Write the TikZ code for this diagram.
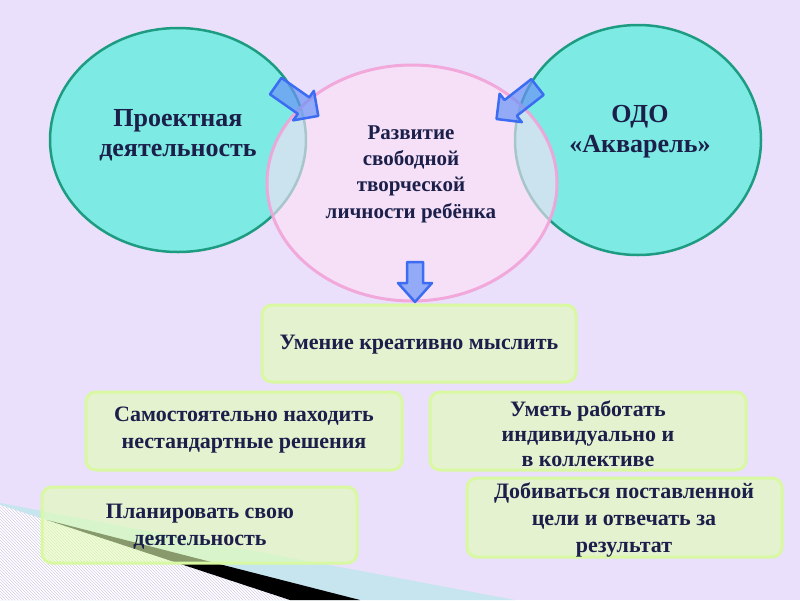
\documentclass[tikz,border=0pt]{standalone}
\usepackage{fontspec}
\setmainfont{Liberation Serif}
\usetikzlibrary{shapes.geometric,patterns}
\definecolor{bg}{HTML}{EAE0FB}
\definecolor{teal1}{HTML}{7DEAE4}
\definecolor{tealb}{HTML}{1E9C82}
\definecolor{pinkf}{HTML}{FCE0F6}
\definecolor{pinkb}{HTML}{F2A2D8}
\definecolor{arrf}{HTML}{6A94F6}
\definecolor{arrb}{HTML}{3C6CF2}
\definecolor{boxf}{HTML}{E3FFB4}
\definecolor{boxb}{HTML}{D9F8A2}
\definecolor{txt}{HTML}{1B1F4A}
\definecolor{lblue}{HTML}{C6E5EF}
\definecolor{stripe}{HTML}{D6CCE6}
\tikzset{
  circ/.style={ellipse, draw=tealb, line width=2.5pt, fill=teal1, inner sep=0pt},
  midell/.style={ellipse, draw=pinkb, line width=3pt, fill=pinkf, fill opacity=0.62, draw opacity=0.9, inner sep=0pt},
  blockarr/.style={draw=arrb, line width=2.5pt, line join=round, fill=arrf, fill opacity=0.7},
  box/.style={rounded corners=10pt, draw=boxb, line width=3pt, fill=boxf, fill opacity=0.6, draw opacity=1},
  btxt/.style={text=txt, font=\bfseries\fontsize{22}{27}\selectfont, align=center, text opacity=1},
  ctxt/.style={text=txt, font=\bfseries\fontsize{26}{30}\selectfont, align=center},
  mtxt/.style={text=txt, font=\bfseries\fontsize{21}{26.3}\selectfont, align=center}
}
\begin{document}
\begin{tikzpicture}[x=1pt,y=-1pt]
\fill[bg] (0,0) rectangle (800,600);
\useasboundingbox (0,0) rectangle (800,600);
% bottom-left decoration
\fill[lblue] (0,503) -- (515,600) -- (0,600) -- cycle;
\fill[white] (0,505) -- (290,600) -- (0,600) -- cycle;
\fill[pattern=north west lines, pattern color=stripe] (0,505) -- (290,600) -- (0,600) -- cycle;
\fill[black] (47,520) -- (360,600) -- (290,600) -- cycle;
% circles
\node[circ, minimum width=256pt, minimum height=224pt] (left) at (178,140) {};
\node[circ, minimum width=246pt, minimum height=230pt] (right) at (638,140) {};
\node[midell, minimum width=290pt, minimum height=236pt] (mid) at (412,183) {};
\node[ctxt] (lt) at (178,135) {Проектная\\деятельность};
\node[ctxt] (rt) at (640,132) {ОДО\\«Акварель»};
\node[mtxt] (mt) at (411,174) {Развитие\\свободной\\творческой\\личности ребёнка};
% arrows
\begin{scope}[shift={(297,101)}, rotate=-35]
\draw[blockarr] (-26,-10) -- (8,-10) -- (8,-18) -- (26,0) -- (8,18) -- (8,10) -- (-26,10) -- cycle;
\end{scope}
\begin{scope}[shift={(517,103)}, rotate=218]
\draw[blockarr] (-26,-10) -- (8,-10) -- (8,-18) -- (26,0) -- (8,18) -- (8,10) -- (-26,10) -- cycle;
\end{scope}
\begin{scope}[shift={(415,282)}, rotate=-90]
\draw[blockarr] (-20,-8) -- (1,-8) -- (1,-17) -- (20,0) -- (1,17) -- (1,8) -- (-20,8) -- cycle;
\end{scope}
% boxes
\draw[box] (262,305) rectangle (576,382);
\node[btxt] (b1) at (419,345) {Умение креативно мыслить};
\draw[box] (86,392) rectangle (402,470);
\node[btxt] (b2) at (244,430) {Самостоятельно находить\\нестандартные решения};
\draw[box] (430,392) rectangle (746,470);
\node[btxt, font=\bfseries\fontsize{22}{25}\selectfont] (b3) at (588,434) {Уметь работать\\индивидуально и\\в коллективе};
\draw[box] (42,487) rectangle (357,563);
\node[btxt] (b4) at (200,527) {Планировать свою\\деятельность};
\draw[box] (467,478) rectangle (782,557);
\node[btxt] (b5) at (624,520) {Добиваться поставленной\\цели и отвечать за\\результат};
\end{tikzpicture}
\end{document}
